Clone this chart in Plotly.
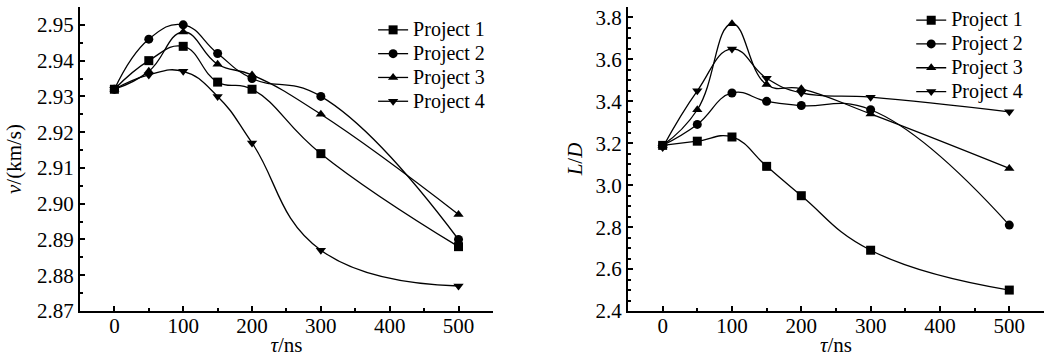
import plotly.graph_objects as go

tau = [0, 50, 100, 150, 200, 300, 500]
names = ["Project 1", "Project 2", "Project 3", "Project 4"]
symbols = ["square", "circle", "triangle-up", "triangle-down"]

v_p1 = [2.932, 2.940, 2.944, 2.934, 2.932, 2.914, 2.888]
v_p2 = [2.932, 2.946, 2.950, 2.942, 2.935, 2.930, 2.890]
v_p3 = [2.932, 2.937, 2.948, 2.939, 2.936, 2.925, 2.897]
v_p4 = [2.932, 2.936, 2.937, 2.930, 2.917, 2.887, 2.877]

ld_p1 = [3.19, 3.21, 3.23, 3.09, 2.95, 2.69, 2.50]
ld_p2 = [3.19, 3.29, 3.44, 3.40, 3.38, 3.36, 2.81]
ld_p3 = [3.19, 3.36, 3.77, 3.48, 3.46, 3.34, 3.08]
ld_p4 = [3.18, 3.45, 3.65, 3.51, 3.44, 3.42, 3.35]

v_series = [v_p1, v_p2, v_p3, v_p4]
ld_series = [ld_p1, ld_p2, ld_p3, ld_p4]

FONT = "Liberation Serif, Times New Roman, serif"
FS = 21
LEG_FS = 20
fig = go.Figure()

def legend_name(n):
    return "<span style='font-size:%dpx'>%s</span>" % (LEG_FS, n)

for i in range(4):
    fig.add_trace(go.Scatter(
        x=tau, y=v_series[i], name=legend_name(names[i]), mode="lines+markers",
        line=dict(color="black", width=1.3, shape="spline", smoothing=1.3),
        marker=dict(symbol=symbols[i], size=9, color="black"),
        xaxis="x", yaxis="y", legend="legend"))
for i in range(4):
    fig.add_trace(go.Scatter(
        x=tau, y=ld_series[i], name=legend_name(names[i]), mode="lines+markers",
        line=dict(color="black", width=1.3, shape="spline", smoothing=1.3),
        marker=dict(symbol=symbols[i], size=9, color="black"),
        xaxis="x2", yaxis="y2", legend="legend2"))

axis_common = dict(showgrid=False, zeroline=False, showline=True,
                   linecolor="black", linewidth=2, ticks="inside",
                   ticklen=5, tickwidth=1.5, tickcolor="black",
                   tickfont=dict(family=FONT, size=FS, color="black"))
minor_common = dict(ticks="inside", ticklen=3, tickwidth=1.5, tickcolor="black")

fig.update_layout(
    width=1051, height=360,
    margin=dict(l=0, r=0, t=0, b=0, autoexpand=False),
    paper_bgcolor="white", plot_bgcolor="white",
    font=dict(family=FONT, size=FS, color="black"),
    xaxis=dict(domain=[0.0761, 0.469], range=[-50, 550], tickvals=[0, 100, 200, 300, 400, 500],
               minor=dict(tickvals=[50, 150, 250, 350, 450], **minor_common),
               ticklabelstandoff=-5,
               title=dict(text="<i>τ</i>/ns", standoff=0, font=dict(family=FONT, size=FS)),
               anchor="y", **axis_common),
    yaxis=dict(domain=[0.136, 0.9806], range=[2.87, 2.955],
               tickvals=[2.87, 2.88, 2.89, 2.90, 2.91, 2.92, 2.93, 2.94, 2.95],
               ticktext=["2.87", "2.88", "2.89", "2.90", "2.91", "2.92", "2.93", "2.94", "2.95"],
               minor=dict(dtick=0.005, **minor_common),
               title=dict(text="<i>v</i>/(km/s)", standoff=10, font=dict(family=FONT, size=FS)),
               anchor="x", **axis_common),
    xaxis2=dict(domain=[0.5975, 0.9933], range=[-50, 550], tickvals=[0, 100, 200, 300, 400, 500],
                minor=dict(tickvals=[50, 150, 250, 350, 450], **minor_common),
                ticklabelstandoff=-5,
                title=dict(text="<i>τ</i>/ns", standoff=0, font=dict(family=FONT, size=FS)),
                anchor="y2", **axis_common),
    yaxis2=dict(domain=[0.136, 0.9806], range=[2.4, 3.85],
                tickvals=[2.4, 2.6, 2.8, 3.0, 3.2, 3.4, 3.6, 3.8],
                ticktext=["2.4", "2.6", "2.8", "3.0", "3.2", "3.4", "3.6", "3.8"],
                minor=dict(dtick=0.05, **minor_common),
                title=dict(text="<i>L</i>/<i>D</i>", standoff=7, font=dict(family=FONT, size=FS)),
                anchor="x2", **axis_common),
    legend=dict(x=0.355, y=0.964, xanchor="left", yanchor="top", bgcolor="rgba(0,0,0,0)",
                font=dict(family=FONT, size=16), tracegroupgap=0, itemwidth=30),
    legend2=dict(x=0.867, y=0.991, xanchor="left", yanchor="top", bgcolor="rgba(0,0,0,0)",
                 font=dict(family=FONT, size=16), tracegroupgap=0, itemwidth=30),
)

fig.write_html("out.html", config={"displayModeBar": False},
               post_script="document.body.style.margin='0px';document.body.style.overflow='hidden';")
